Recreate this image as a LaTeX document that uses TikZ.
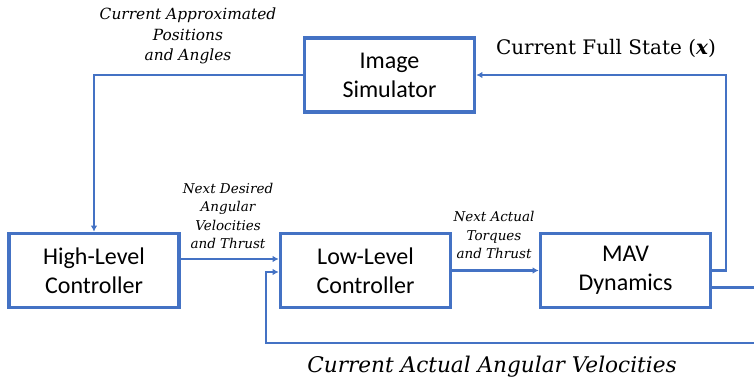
\documentclass[tikz,border=0pt]{standalone}
\usepackage{fontspec}
\setmainfont{Carlito}
\newfontfamily\lblfont{DejaVu Serif}
\usepackage{xcolor}
\usetikzlibrary{arrows.meta,positioning}

\definecolor{ctrlblue}{HTML}{4472C4}

\begin{document}
\begin{tikzpicture}[
  x=1pt, y=-1pt, >={Latex[length=6pt,width=6.5pt]},
  box/.style={draw=ctrlblue, line width=3.6pt, align=center, minimum width=170pt, minimum height=74pt, inner sep=0pt, font=\fontsize{24}{29}\selectfont},
  arr/.style={->, line width=2.3pt, draw=ctrlblue},
  lbl/.style={font=\lblfont\itshape\fontsize{13.5}{18.3}\selectfont, align=center, inner sep=0pt},
  biglbl/.style={font=\lblfont\itshape\fontsize{15.4}{20.5}\selectfont, align=center, inner sep=0pt},
]
\useasboundingbox (0,0) rectangle (754,379);
% blocks
\node[box] (sim)  at (389.5,75)  {Image\\Simulator};
\node[box] (high) at (94,270.5)  {High-Level\\Controller};
\node[box] (low)  at (365.5,270.5) {Low-Level\\Controller};
\node[box] (mav)  at (625.5,270.5) {MAV\\Dynamics};
% corners of the feedback paths
\coordinate (up)    at (726,75);
\coordinate (loopR) at (762,343);
\coordinate (loopL) at (266,343);
% arrows
\draw[arr] (sim.west) -| (high.north);
\draw[arr] ([yshift=11.5pt]high.east) -- ([yshift=11.5pt]low.west);
\draw[arr] (low.east) -- (mav.west);
\draw[arr] (mav.east) -- (mav.east -| up) -- (up) -- (sim.east);
\draw[arr] ([yshift=-17pt]mav.east) -| (loopR) -- (loopL) |- ([yshift=-1.5pt]low.west);
% signal labels
\node[biglbl] (lbl_pos) at (188,36) {Current Approximated\\Positions\\and Angles};
\node[lbl] (lbl_rate) at (228,216) {Next Desired\\Angular\\Velocities\\and Thrust};
\node[lbl] (lbl_torq) at (494,235) {Next Actual\\Torques\\and Thrust};
\node[font=\lblfont\fontsize{20}{24}\selectfont, inner sep=0pt] (lbl_state) at (606,48) {Current Full State (\textbf{\textit{x}})};
\node[font=\lblfont\itshape\fontsize{21.6}{25}\selectfont, inner sep=0pt] (lbl_omega) at (492,367) {Current Actual Angular Velocities};
\end{tikzpicture}
\end{document}
